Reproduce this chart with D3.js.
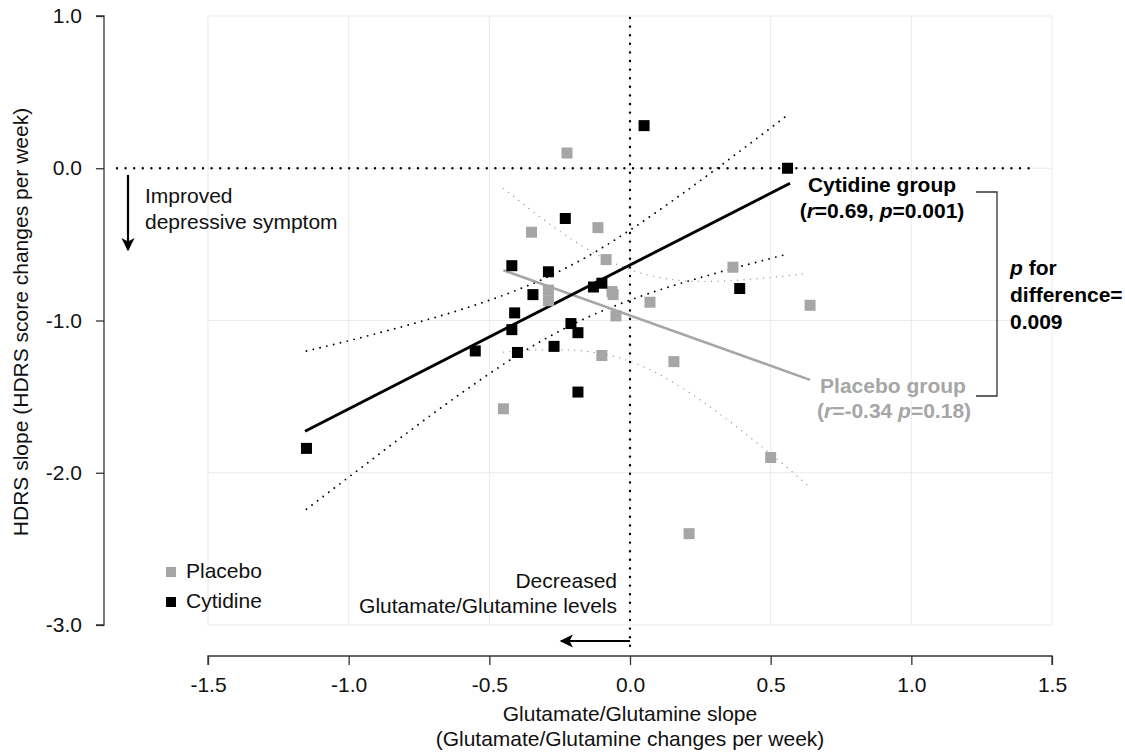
<!DOCTYPE html>
<html>
<head>
<meta charset="utf-8">
<script src="https://cdn.jsdelivr.net/npm/d3@7"></script>
<style>
  html, body { margin: 0; padding: 0; background: #fff; }
  svg { display: block; font-family: "Liberation Sans", Arial, Helvetica, sans-serif; }
</style>
</head>
<body>
<svg id="chart" width="1125" height="752"></svg>
<script>
// ---------------- data ----------------
const xTicks = [-1.5, -1.0, -0.5, 0.0, 0.5, 1.0, 1.5];
const yTicks = [1.0, 0.0, -1.0, -2.0, -3.0];

// Cytidine group (Glu/Gln slope, HDRS slope)
const cytidineX = [0.05, 0.56, -0.23, -0.42, -0.29, -0.13, -0.10, -0.345, -0.41, -0.42, -0.21, -0.185, -0.40, -0.27, -0.55, -0.185, 0.39, -1.15];
const cytidineY = [0.28, 0.00, -0.33, -0.64, -0.68, -0.78, -0.755, -0.83, -0.95, -1.06, -1.02, -1.08, -1.21, -1.17, -1.20, -1.47, -0.79, -1.84];

// Placebo group
const placeboX = [-0.35, -0.114, -0.085, -0.29, -0.29, -0.064, -0.06, 0.071, -0.05, -0.10, 0.156, -0.45, -0.224, 0.366, 0.64, 0.50, 0.21];
const placeboY = [-0.42, -0.39, -0.60, -0.80, -0.87, -0.81, -0.83, -0.88, -0.97, -1.23, -1.27, -1.58, 0.10, -0.65, -0.90, -1.90, -2.40];

// Regression fit line end points
const cytidineFitX = [-1.155, 0.569];
const cytidineFitY = [-1.727, -0.098];
const placeboFitX = [-0.45, 0.64];
const placeboFitY = [-0.67, -1.39];

// Confidence bands
const cytBandX     = [-1.15, -1.0, -0.9, -0.75, -0.6, -0.45, -0.3, -0.15, 0.0, 0.15, 0.3, 0.45, 0.555];
const cytUpperY    = [-1.20, -1.133, -1.085, -1.010, -0.928, -0.834, -0.720, -0.578, -0.406, -0.215, -0.013, 0.195, 0.343];
const cytLowerY    = [-2.24, -2.029, -1.889, -1.680, -1.478, -1.288, -1.119, -0.978, -0.866, -0.773, -0.692, -0.617, -0.566];
const plaBandX     = [-0.45, -0.35, -0.25, -0.15, -0.05, 0.05, 0.15, 0.25, 0.35, 0.45, 0.55, 0.63];
const plaUpperY    = [-0.132, -0.277, -0.413, -0.533, -0.629, -0.695, -0.731, -0.743, -0.739, -0.726, -0.708, -0.690];
const plaLowerY    = [-1.208, -1.195, -1.192, -1.204, -1.239, -1.305, -1.402, -1.522, -1.657, -1.802, -1.952, -2.08];

// ---------------- layout ----------------
const svg = d3.select("#chart");
const FS = 21;
const x = d3.scaleLinear().domain([-1.5, 1.5]).range([208, 1052]);
const y = d3.scaleLinear().domain([-3, 1]).range([625, 16]);

const grey = "#a6a6a6";
const ink = "#111";

// grid
const grid = svg.append("g");
grid.selectAll("line.vx").data(xTicks).join("line")
  .attr("x1", d => x(d)).attr("x2", d => x(d))
  .attr("y1", y(1)).attr("y2", y(-3))
  .attr("stroke", "#ebebeb").attr("stroke-width", 1);
grid.selectAll("line.hy").data(yTicks).join("line")
  .attr("y1", d => y(d)).attr("y2", d => y(d))
  .attr("x1", x(-1.5)).attr("x2", x(1.5))
  .attr("stroke", "#ebebeb").attr("stroke-width", 1);

const fmt = d => d3.format(".1f")(d).replace("−", "-");

// y axis
const yAxis = d3.axisLeft(y).tickValues(yTicks).tickFormat(fmt).tickSize(8).tickPadding(14);
const gy = svg.append("g").attr("transform", "translate(104,0)").call(yAxis);
gy.select(".domain").attr("d", `M-8,${y(1)}H0V${y(-3)}H-8`).attr("stroke", "#333").attr("stroke-width", 1.3);
gy.selectAll(".tick line").attr("stroke", "#333").attr("stroke-width", 1.3);
gy.selectAll(".tick text").attr("font-size", FS).attr("fill", ink).attr("font-family", null);

// x axis
const xAxis = d3.axisBottom(x).tickValues(xTicks).tickFormat(fmt).tickSize(9).tickPadding(12);
const gx = svg.append("g").attr("transform", "translate(0,656)").call(xAxis);
gx.select(".domain").attr("d", `M${x(-1.5)},9V0H${x(1.5)}V9`).attr("stroke", "#333").attr("stroke-width", 1.3);
gx.selectAll(".tick line").attr("stroke", "#333").attr("stroke-width", 1.3);
gx.selectAll(".tick text").attr("font-size", FS).attr("fill", ink).attr("font-family", null);

// axis titles
svg.append("text").attr("x", x(0)).attr("y", 721).attr("text-anchor", "middle")
  .attr("font-size", FS).attr("fill", ink).text("Glutamate/Glutamine slope");
svg.append("text").attr("x", x(0)).attr("y", 746).attr("text-anchor", "middle")
  .attr("font-size", FS).attr("fill", ink).text("(Glutamate/Glutamine changes per week)");
svg.append("text").attr("transform", `translate(28,322) rotate(-90)`)
  .attr("text-anchor", "middle").attr("font-size", 21).attr("fill", ink)
  .text("HDRS slope (HDRS score changes per week)");

// reference dotted lines
svg.append("line").attr("x1", 117).attr("x2", 1030).attr("y1", y(0)).attr("y2", y(0))
  .attr("stroke", "#000").attr("stroke-width", 2.4).attr("stroke-dasharray", "0 8.6").attr("stroke-linecap", "round");
svg.append("line").attr("x1", x(0)).attr("x2", x(0)).attr("y1", y(1) + 2).attr("y2", 654)
  .attr("stroke", "#000").attr("stroke-width", 2.4).attr("stroke-dasharray", "0 8.6").attr("stroke-linecap", "round");

// confidence bands
const line = d3.line().x(d => x(d[0])).y(d => y(d[1])).curve(d3.curveMonotoneX);
function band(xs, ys, color, w, dash) {
  svg.append("path").datum(xs.map((v, i) => [v, ys[i]])).attr("d", line)
    .attr("fill", "none").attr("stroke", color).attr("stroke-width", w)
    .attr("stroke-dasharray", dash).attr("stroke-linecap", "round");
}
band(plaBandX, plaUpperY, "#9a9a9a", 1.4, "0 6.5");
band(plaBandX, plaLowerY, "#9a9a9a", 1.4, "0 6.5");
band(cytBandX, cytUpperY, "#000", 1.9, "0 7");
band(cytBandX, cytLowerY, "#000", 1.9, "0 7");

// fit lines
svg.append("line").attr("x1", x(placeboFitX[0])).attr("y1", y(placeboFitY[0]))
  .attr("x2", x(placeboFitX[1])).attr("y2", y(placeboFitY[1]))
  .attr("stroke", grey).attr("stroke-width", 2.6);
svg.append("line").attr("x1", x(cytidineFitX[0])).attr("y1", y(cytidineFitY[0]))
  .attr("x2", x(cytidineFitX[1])).attr("y2", y(cytidineFitY[1]))
  .attr("stroke", "#000").attr("stroke-width", 2.9);

// points
const S = 11;
svg.append("g").selectAll("rect").data(placeboX.map((v, i) => [v, placeboY[i]])).join("rect")
  .attr("x", d => x(d[0]) - S / 2).attr("y", d => y(d[1]) - S / 2)
  .attr("width", S).attr("height", S).attr("fill", grey);
svg.append("g").selectAll("rect").data(cytidineX.map((v, i) => [v, cytidineY[i]])).join("rect")
  .attr("x", d => x(d[0]) - S / 2).attr("y", d => y(d[1]) - S / 2)
  .attr("width", S).attr("height", S).attr("fill", "#000");

// arrows
svg.append("defs").append("marker").attr("id", "ah").attr("viewBox", "0 0 10 10")
  .attr("refX", 9).attr("refY", 5).attr("markerWidth", 6.5).attr("markerHeight", 6)
  .attr("markerUnits", "strokeWidth").attr("orient", "auto")
  .append("path").attr("d", "M0,0L10,5L0,10L2.5,5Z").attr("fill", "#000");
svg.append("line").attr("x1", 128).attr("x2", 128).attr("y1", 175).attr("y2", 250)
  .attr("stroke", "#000").attr("stroke-width", 2.2).attr("marker-end", "url(#ah)");
svg.append("line").attr("x1", x(0)).attr("x2", 561).attr("y1", 641).attr("y2", 641)
  .attr("stroke", "#000").attr("stroke-width", 2.2).attr("marker-end", "url(#ah)");

// annotation texts
svg.append("text").attr("x", 145).attr("y", 203).attr("font-size", FS).attr("fill", ink).text("Improved");
svg.append("text").attr("x", 145).attr("y", 229).attr("font-size", FS).attr("fill", ink).text("depressive symptom");
svg.append("text").attr("x", 617).attr("y", 588).attr("text-anchor", "end").attr("font-size", FS).attr("fill", ink).text("Decreased");
svg.append("text").attr("x", 617).attr("y", 613).attr("text-anchor", "end").attr("font-size", FS).attr("fill", ink).text("Glutamate/Glutamine levels");

// legend
const legendNames = ["Placebo", "Cytidine"];
const legendColors = [grey, "#000"];
legendNames.forEach((name, i) => {
  const ly = 572 + i * 30;
  svg.append("rect").attr("x", 166).attr("y", ly - 5).attr("width", 10).attr("height", 10).attr("fill", legendColors[i]);
  svg.append("text").attr("x", 186).attr("y", ly + 6).attr("font-size", FS).attr("fill", ink).text(name);
});

// group labels
svg.append("text").attr("x", 882).attr("y", 192).attr("text-anchor", "middle")
  .attr("font-size", FS).attr("font-weight", "bold").attr("fill", "#000").text("Cytidine group");
const cyt2 = svg.append("text").attr("x", 882).attr("y", 218).attr("text-anchor", "middle")
  .attr("font-size", FS).attr("font-weight", "bold").attr("fill", "#000");
cyt2.append("tspan").text("(");
cyt2.append("tspan").attr("font-style", "italic").text("r");
cyt2.append("tspan").text("=0.69, ");
cyt2.append("tspan").attr("font-style", "italic").text("p");
cyt2.append("tspan").text("=0.001)");

svg.append("text").attr("x", 893).attr("y", 393).attr("text-anchor", "middle")
  .attr("font-size", FS).attr("font-weight", "bold").attr("fill", grey).text("Placebo group");
const pl2 = svg.append("text").attr("x", 894).attr("y", 418).attr("text-anchor", "middle")
  .attr("font-size", FS).attr("font-weight", "bold").attr("fill", grey);
pl2.append("tspan").text("(");
pl2.append("tspan").attr("font-style", "italic").text("r");
pl2.append("tspan").text("=-0.34 ");
pl2.append("tspan").attr("font-style", "italic").text("p");
pl2.append("tspan").text("=0.18)");

// bracket
svg.append("path").attr("d", "M976,192H997V396H976").attr("fill", "none")
  .attr("stroke", "#333").attr("stroke-width", 1.3);

const pd = svg.append("text").attr("x", 1010).attr("y", 275).attr("font-size", FS)
  .attr("font-weight", "bold").attr("fill", "#000");
pd.append("tspan").attr("font-style", "italic").text("p");
pd.append("tspan").text(" for");
svg.append("text").attr("x", 1010).attr("y", 302).attr("font-size", FS).attr("font-weight", "bold").attr("fill", "#000").text("difference=");
svg.append("text").attr("x", 1010).attr("y", 329).attr("font-size", FS).attr("font-weight", "bold").attr("fill", "#000").text("0.009");
</script>
</body>
</html>
